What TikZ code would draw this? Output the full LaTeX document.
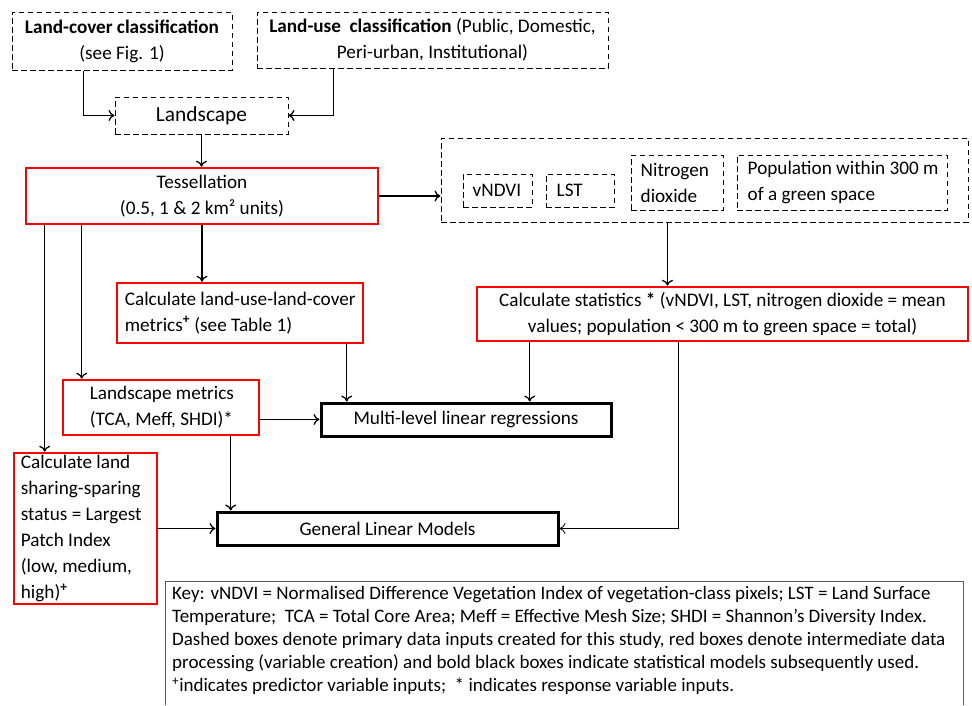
\documentclass[tikz,border=0pt]{standalone}
\usepackage{fontspec}
\setmainfont{Carlito}
\usetikzlibrary{arrows.meta}
\newcommand\mybox[7]{\node[#6, minimum width={(#4)-(#2)}, minimum height={(#5)-(#3)}] (#1) at ({((#2)+(#4))/2},{((#3)+(#5))/2}) {#7};}
\newcommand\lbox[8]{\node[#6, minimum width={(#4)-(#2)}, minimum height={(#5)-(#3)}] (#1) at ({((#2)+(#4))/2},{((#3)+(#5))/2}) {};
  \node[anchor=west, align=left, inner sep=0pt] (#1-t) at ([xshift=#7]#1.west) {#8};}
\begin{document}
\begin{tikzpicture}[x=1pt,y=-1pt,
  dbox/.style={draw, dash pattern=on 5.5pt off 3.5pt, line width=1pt, inner sep=0pt},
  rbox/.style={draw=red, line width=2.6pt, inner sep=0pt},
  boldbox/.style={draw=black, line width=3pt, inner sep=0pt},
  arr/.style={-{To[length=6pt,width=11pt]}, line width=1.3pt},
  font=\fontsize{19.2}{26}\selectfont]
\useasboundingbox (0,0) rectangle (972,705);

\mybox{lc}{12}{12}{232}{70}{dbox,align=center}{\textbf{Land-cover classification}\\(see Fig. 1)}
\mybox{lu}{257}{12}{608}{68}{dbox,align=center}{\textbf{Land-use\ \ classification} (Public, Domestic,\\Peri-urban, Institutional)}
\mybox{land}{115}{97}{288}{134}{dbox,align=center,font=\fontsize{21.4}{26}\selectfont}{Landscape}
\mybox{tess}{26}{168}{378}{224}{rbox,align=center}{Tessellation\\(0.5, 1 \& 2 km² units)}
\mybox{big}{441}{138}{968}{222}{dbox}{}
\lbox{ndvi}{463}{174}{532}{207}{dbox}{10}{vNDVI}
\lbox{lst}{546}{174}{614}{207}{dbox}{11}{LST}
\lbox{no2}{631}{155}{723}{210}{dbox}{10}{Nitrogen\\dioxide}
\lbox{pop}{737}{155}{947}{210}{dbox}{11}{Population within 300 m\\of a green space}
\mybox{stats}{477}{287}{968}{341}{rbox,align=center}{Calculate statistics \textbf{*} (vNDVI, LST, nitrogen dioxide = mean\\values; population < 300 m to green space = total)}
\lbox{lulc}{117}{283}{363}{343}{rbox}{9}{Calculate land-use-land-cover\\metrics\textsuperscript{\textbf{+}} (see Table 1)}
\lbox{lm}{63}{380}{259}{435}{rbox}{28}{Landscape metrics\\(TCA, Meff, SHDI)*}
\mybox{ml}{321}{403}{611}{436}{boldbox,align=center}{Multi-level linear regressions}
\lbox{ls}{14}{453}{157}{604}{rbox}{8}{\fontsize{19.2}{26}\selectfont Calculate land\\sharing-sparing\\status = Largest\\Patch Index\\(low, medium,\\high)\textsuperscript{\textbf{+}}}
\mybox{glm}{217}{512}{558}{545}{boldbox,align=center}{General Linear Models}

\node[anchor=north west, align=left, inner sep=0pt, font=\fontsize{19}{23}\selectfont] (key) at (172,586) {Key: vNDVI = Normalised Difference Vegetation Index of vegetation-class pixels; LST = Land Surface\\Temperature;\ \ TCA = Total Core Area; Meff = Effective Mesh Size; SHDI = Shannon’s Diversity Index.\\Dashed boxes denote primary data inputs created for this study, red boxes denote intermediate data\\processing (variable creation) and bold black boxes indicate statistical models subsequently used.\\\textsuperscript{+}indicates predictor variable inputs;\ \ * indicates response variable inputs.};
\draw[line width=1pt, gray!70!black] (165,705) -- (165,581) -- (963,581) -- (963,705);

\draw[arr] ([xshift=72]lc.south west) |- (land.west);
\draw[arr] ([xshift=77]lu.south west) |- (land.east);
\draw[arr] (land.south) -- (land.south |- tess.north);
\draw[arr] (tess.east) -- (tess.east -| big.west);
\coordinate (b1) at ([xshift=227]big.south west);
\draw[arr] (b1) -- (b1 |- stats.north);
\draw[arr] (tess.south) -- (tess.south |- lulc.north);
\coordinate (t1) at ([xshift=57]tess.south west);
\draw[arr] (t1) -- (t1 |- lm.north);
\coordinate (t2) at ([xshift=20]tess.south west);
\draw[arr] (t2) -- (t2 |- ls.north);
\coordinate (l1) at ([xshift=231]lulc.south west);
\draw[arr] (l1) -- (l1 |- ml.north);
\coordinate (s1) at ([xshift=54]stats.south west);
\draw[arr] (s1) -- (s1 |- ml.north);
\coordinate (s2) at ([xshift=203]stats.south west);
\draw[arr, line width=0.8pt] (s2) |- (glm.east);
\draw[arr] (ml.west -| lm.east) -- (ml.west);
\coordinate (m1) at ([xshift=169]lm.south west);
\draw[arr] (m1) -- (m1 |- glm.north);
\draw[arr] (ls.east) -- (ls.east -| glm.west);
\end{tikzpicture}
\end{document}
